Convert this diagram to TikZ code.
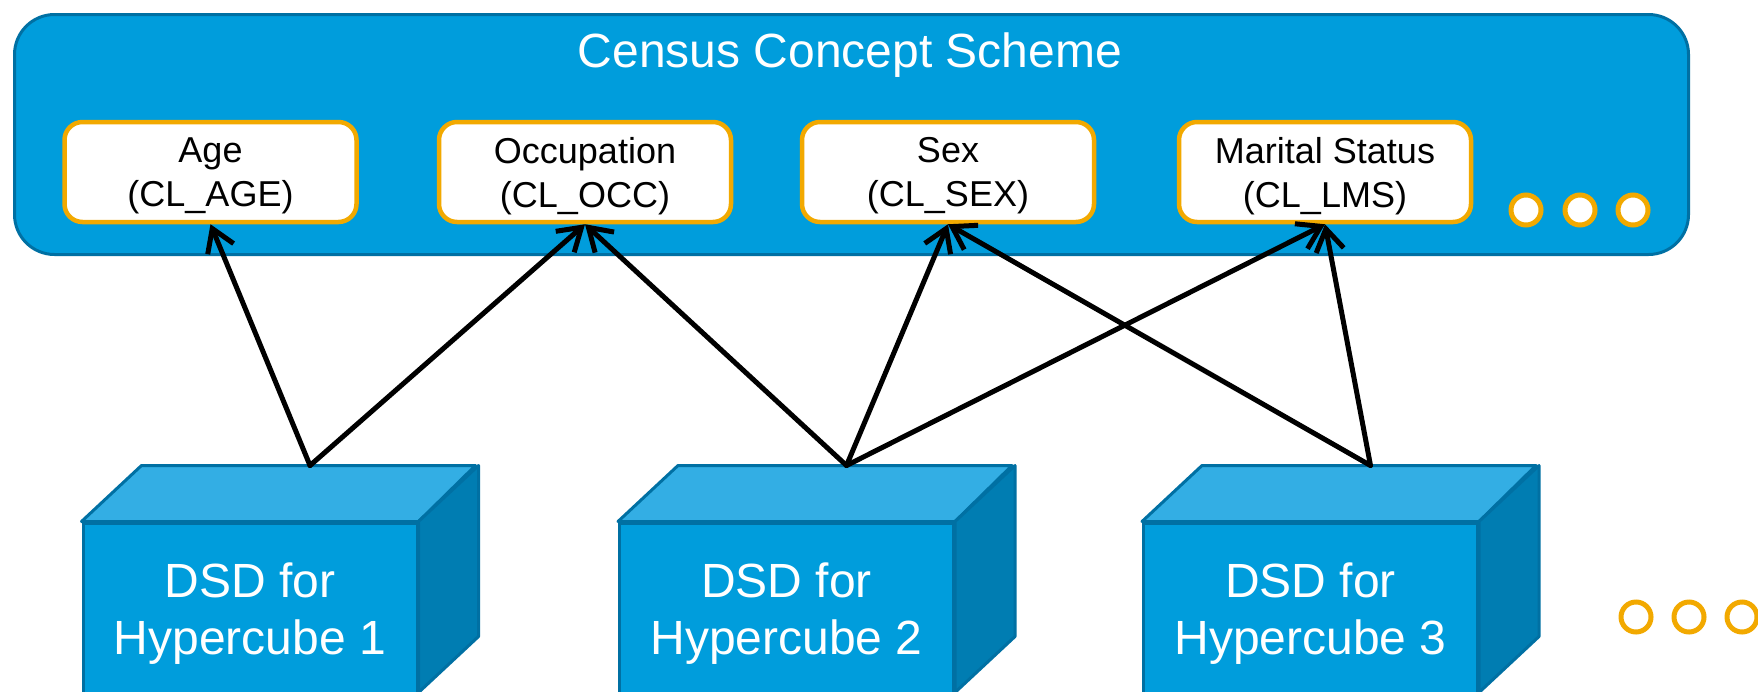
\documentclass[tikz,border=0pt]{standalone}
\usepackage{fontspec}
\setmainfont{Liberation Sans}
\usepackage{tikz}
\usetikzlibrary{arrows.meta}

\definecolor{schemeblue}{RGB}{0,157,220}
\definecolor{edgeblue}{RGB}{0,112,163}
\definecolor{topblue}{RGB}{51,174,228}
\definecolor{sideblue}{RGB}{0,125,178}
\definecolor{codeorange}{RGB}{242,169,0}

\begin{document}
\begin{tikzpicture}[x=1pt, y=-1pt,
    scheme/.style={rectangle, rounded corners=40pt, draw=edgeblue, line width=3pt, fill=schemeblue, minimum width=1674pt, minimum height=240pt},
    codelist/.style={rectangle, rounded corners=18pt, draw=codeorange, line width=4.5pt, fill=white, minimum width=292pt, minimum height=100pt, align=center, text depth=0pt, font=\fontsize{36}{44}\selectfont},
    dsd/.style={rectangle, draw=edgeblue, line width=3pt, fill=schemeblue, minimum width=334pt, minimum height=182pt, align=center, text=white, font=\fontsize{48}{57}\selectfont},
    face/.style={draw=edgeblue, line width=3pt, line join=round},
    more/.style={circle, draw=codeorange, line width=5pt, fill=white, minimum size=30pt, inner sep=0pt},
    uses/.style={line width=5pt, line cap=round, -{Straight Barb[length=22pt, width=28pt]}}]

    \useasboundingbox (0,0) rectangle (1758,691);

    \node[scheme] (scheme) at (851.5,134.5) {};
    \node[anchor=base, text=white, font=\fontsize{48}{57}\selectfont] (title) at (850,67) {Census Concept Scheme};

    \node[codelist] (age) at (210.5,172) {Age\\(CL\_AGE)};
    \node[codelist] (occ) at (585,172) {Occupation\\(CL\_OCC)};
    \node[codelist] (sex) at (948,172) {Sex\\(CL\_SEX)};
    \node[codelist] (lms) at (1325,172) {Marital Status\\(CL\_LMS)};

    \node[more] (more1) at (1526,210) {};
    \node[more] (more2) at (1580,210) {};
    \node[more] (more3) at (1633,210) {};

    \node[dsd] (dsd1) at (250,614) {DSD for\\Hypercube 1};
    \node[dsd] (dsd2) at (786.5,614) {DSD for\\Hypercube 2};
    \node[dsd] (dsd3) at (1310.5,614) {DSD for\\Hypercube 3};

    \draw[face, fill=topblue] (dsd1.north west) -- ++(60,-56) -- ++(334,0) -- (dsd1.north east) -- cycle;
    \draw[face, fill=sideblue] (dsd1.north east) -- ++(60,-56) -- ++(0,171) -- ++(-60,56) -- cycle;
    \draw[face, fill=topblue] (dsd2.north west) -- ++(60,-56) -- ++(334,0) -- (dsd2.north east) -- cycle;
    \draw[face, fill=sideblue] (dsd2.north east) -- ++(60,-56) -- ++(0,171) -- ++(-60,56) -- cycle;
    \draw[face, fill=topblue] (dsd3.north west) -- ++(60,-56) -- ++(334,0) -- (dsd3.north east) -- cycle;
    \draw[face, fill=sideblue] (dsd3.north east) -- ++(60,-56) -- ++(0,171) -- ++(-60,56) -- cycle;

    \coordinate (top1) at ([shift={(60,-56)}]dsd1.north);
    \coordinate (top2) at ([shift={(60,-56)}]dsd2.north);
    \coordinate (top3) at ([shift={(60,-56)}]dsd3.north);

    \node[more] (etc1) at (1636,617) {};
    \node[more] (etc2) at (1689,617) {};
    \node[more] (etc3) at (1742,617) {};

    \draw[uses] (top1) -- (age.south);
    \draw[uses] (top1) -- (occ.south);
    \draw[uses] (top2) -- (occ.south);
    \draw[uses] (top2) -- (sex.south);
    \draw[uses] (top2) -- (lms.south);
    \draw[uses] (top3) -- (sex.south);
    \draw[uses] (top3) -- (lms.south);
\end{tikzpicture}
\end{document}
